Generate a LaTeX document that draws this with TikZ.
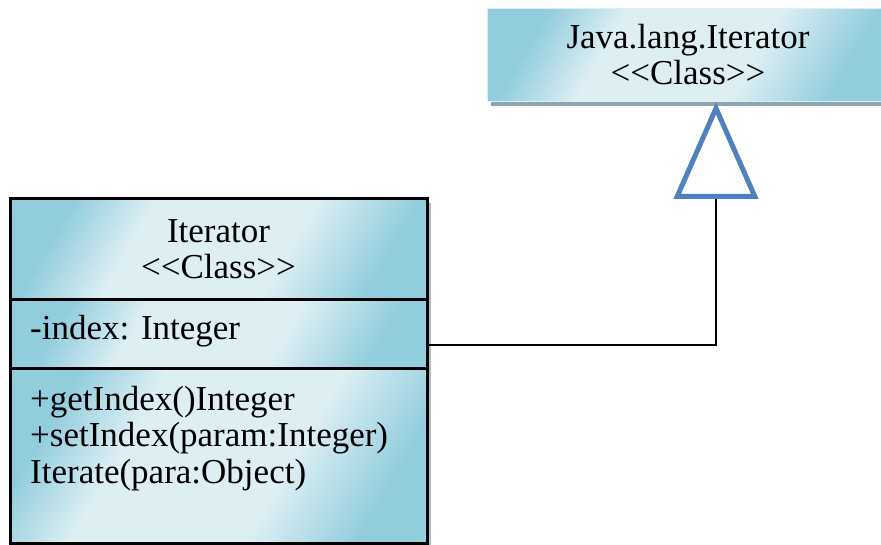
\documentclass[tikz,border=0pt]{standalone}
\usepackage{fontspec}
\setmainfont{Liberation Serif}[Ligatures=TeXOff]
\usetikzlibrary{arrows.meta,calc}

\definecolor{aqualight}{RGB}{222,239,244}
\definecolor{aquadark}{RGB}{146,205,221}
\definecolor{shadowgray}{RGB}{140,165,175}
\definecolor{triblue}{RGB}{79,129,189}

\pgfdeclarehorizontalshading{umlshade}{100bp}{color(0bp)=(aquadark); color(25bp)=(aquadark); color(37bp)=(aqualight); color(60bp)=(aqualight); color(75bp)=(aquadark); color(100bp)=(aquadark)}

\tikzset{
  umlfill/.style={shading=umlshade, shading angle=-30},
  umlbox/.style={umlfill, draw=black, line width=3pt, minimum width=417pt, outer sep=0pt, align=center},
  umltext/.style={font=\fontsize{35}{36}\selectfont, inner sep=0pt},
}

\begin{document}
\begin{tikzpicture}[x=1pt,y=1pt,yscale=-1, every node/.style={umltext}]
\useasboundingbox (0,0) rectangle (881,545);
\clip (0,0) rectangle (881,545);

%Shadows
\fill[shadowgray] (491,13) rectangle (892,106);
\fill[shadowgray!70] (14,203) rectangle (431,547);

%Java.lang.Iterator
\node[umlfill, draw=aqualight, line width=1pt, minimum width=401pt, minimum height=93pt, anchor=north west, align=center] (jli) at (487,8) {Java.lang.Iterator\\<<Class>>};

%Iterator class
\node[umlbox, minimum height=101pt, anchor=north west] (itname) at (10,199) {Iterator\\<<Class>>};
\node[umlbox, minimum height=68pt, anchor=north west] (itattr) at (10,300) {};
\node[umlbox, minimum height=175pt, anchor=north west] (itops) at (10,368) {};

%Attributes and operations
\node[anchor=base west] (attr) at (30,340) {-index: Integer};
\node[anchor=base west] (op1) at (30,410) {+getIndex()Integer};
\node[anchor=base west] (op2) at (30,446) {+setIndex(param:Integer)};
\node[anchor=base west] (op3) at (30,483) {Iterate(para:Object)};

%Generalisation
\coordinate (jlibase) at ($(jli.south west)+(229,0)$);
\draw[line width=2pt, -{Triangle[open, length=97pt, width=84pt, line width=5pt, color=triblue]}] ($(itattr.east)+(0,11)$) -| (jlibase);

\end{tikzpicture}
\end{document}
